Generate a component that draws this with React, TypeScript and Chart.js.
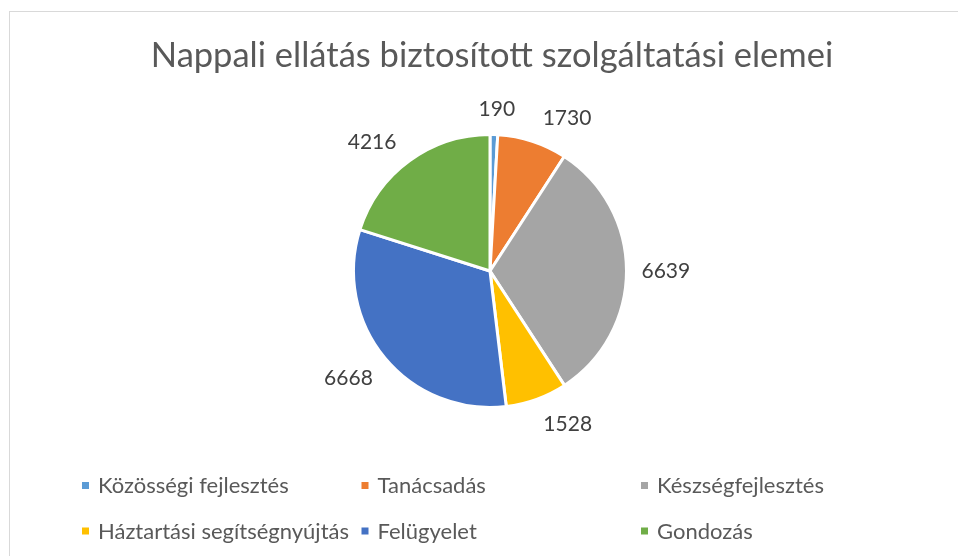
import React, { useEffect, useRef } from "react";
import { Chart, registerables } from "chart.js";

Chart.register(...registerables);

const TITLE = "Nappali ellátás biztosított szolgáltatási elemei";
const categories = [
  "Közösségi fejlesztés",
  "Tanácsadás",
  "Készségfejlesztés",
  "Háztartási segítségnyújtás",
  "Felügyelet",
  "Gondozás",
];
const values = [190, 1730, 6639, 1528, 6668, 4216];
const colors = ["#5B9BD5", "#ED7D31", "#A5A5A5", "#FFC000", "#4472C4", "#70AD47"];

// small angular nudges (degrees) mimicking Excel's outside-end label placement
const labelAngleNudgeDeg = [0.8, 8.6, 0, -7, 2.7, -6.1];

const FONT = "Lato, 'Open Sans', sans-serif";

const decorPlugin = {
  id: "excelDecor",
  afterDraw(chart: any) {
    const ctx: CanvasRenderingContext2D = chart.ctx;
    ctx.save();

    // Title
    ctx.fillStyle = "#595959";
    ctx.font = `34.5px ${FONT}`;
    ctx.textAlign = "center";
    ctx.textBaseline = "alphabetic";
    ctx.fillText(TITLE, 492, 67);

    // Data labels
    const meta = chart.getDatasetMeta(0);
    ctx.font = `21px ${FONT}`;
    ctx.fillStyle = "#404040";
    const capH = 15;
    meta.data.forEach((arc: any, i: number) => {
      const p = arc.getProps(["x", "y", "startAngle", "endAngle", "outerRadius"], true);
      const mid = (p.startAngle + p.endAngle) / 2 + (labelAngleNudgeDeg[i] * Math.PI) / 180;
      const text = String(chart.data.datasets[0].data[i]);
      const w = ctx.measureText(text).width;
      const h = 20;
      const dx = Math.cos(mid);
      const dy = Math.sin(mid);
      const d = p.outerRadius + 15 + (Math.abs(dx) * w) / 2 + (Math.abs(dy) * h) / 2;
      ctx.fillText(text, p.x + dx * d, p.y + dy * d + capH / 2);
    });

    // Legend (3 columns x 2 rows)
    const labels: string[] = chart.data.labels;
    const bg: string[] = chart.data.datasets[0].backgroundColor;
    const colX = [82, 361.5, 641];
    const rowMid = [485.5, 531];
    ctx.font = `22px ${FONT}`;
    ctx.textAlign = "left";
    labels.forEach((lab, i) => {
      const c = i % 3;
      const r = Math.floor(i / 3);
      const x = colX[c];
      const y = rowMid[r];
      ctx.fillStyle = bg[i];
      ctx.fillRect(x, y - 3.5, 7, 7);
      ctx.fillStyle = "#595959";
      ctx.fillText(lab, x + 16, y + 7.5);
    });

    ctx.restore();
  },
};

export default function App() {
  const ref = useRef<HTMLCanvasElement | null>(null);

  useEffect(() => {
    if (!ref.current) return;
    const chart = new Chart(ref.current, {
      type: "pie",
      data: {
        labels: categories,
        datasets: [
          {
            data: values,
            backgroundColor: colors,
            borderColor: "#ffffff",
            borderWidth: 3,
          },
        ],
      },
      options: {
        responsive: false,
        animation: false,
        layout: { padding: { top: 133, bottom: 147, left: 352, right: 330 } },
        plugins: {
          legend: { display: false },
          title: { display: false },
          tooltip: { enabled: false },
        },
      },
      plugins: [decorPlugin],
    });
    return () => chart.destroy();
  }, []);

  return (
    <div
      style={{
        position: "fixed",
        left: 0,
        top: 0,
        width: 958,
        height: 556,
        overflow: "hidden",
        background: "#ffffff",
      }}
    >
      <div
        style={{
          position: "absolute",
          left: 9,
          top: 11,
          width: 1200,
          height: 1200,
          border: "1px solid #d9d9d9",
          boxSizing: "border-box",
        }}
      />
      <canvas
        ref={ref}
        width={958}
        height={556}
        style={{ position: "absolute", left: 0, top: 0 }}
      />
    </div>
  );
}
